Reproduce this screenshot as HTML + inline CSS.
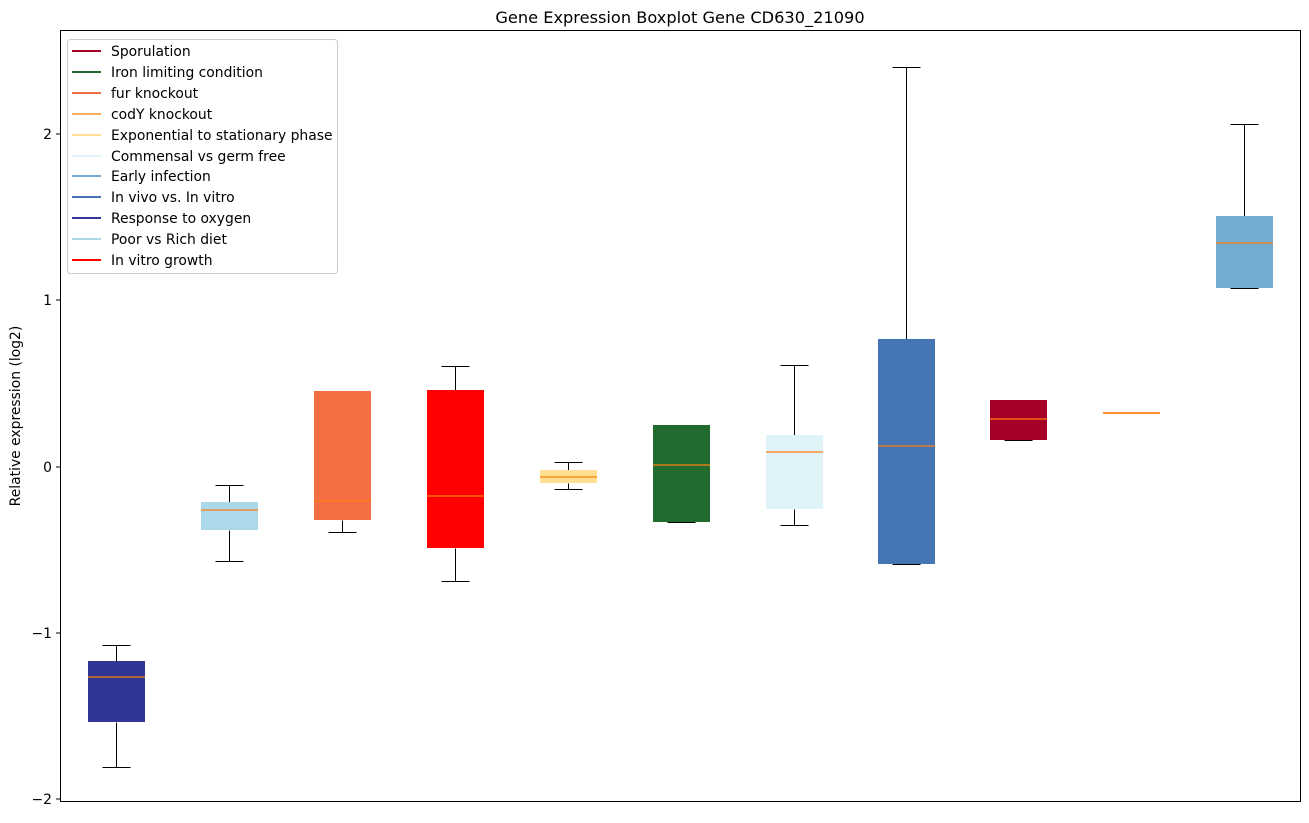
<!DOCTYPE html>
<html><head><meta charset="utf-8"><style>body{margin:0;background:#fff}</style></head><body>
<svg width="1309" height="818" xmlns="http://www.w3.org/2000/svg" font-family="DejaVu Sans, Liberation Sans, sans-serif">
<rect width="1309" height="818" fill="#fff"/>
<text x="680" y="23" font-size="16.2" text-anchor="middle">Gene Expression Boxplot Gene CD630_21090</text>
<g stroke="#000" stroke-width="1" transform="translate(0.5,0.5)">
<line x1="116" y1="645" x2="116" y2="661"/><line x1="116" y1="722" x2="116" y2="767"/><line x1="102" y1="645" x2="130" y2="645"/><line x1="102" y1="767" x2="130" y2="767"/>
<line x1="229" y1="485" x2="229" y2="502"/><line x1="229" y1="530" x2="229" y2="561"/><line x1="215" y1="485" x2="243" y2="485"/><line x1="215" y1="561" x2="243" y2="561"/>
<line x1="342" y1="520" x2="342" y2="532"/><line x1="328" y1="391" x2="356" y2="391"/><line x1="328" y1="532" x2="356" y2="532"/>
<line x1="455" y1="366" x2="455" y2="390"/><line x1="455" y1="548" x2="455" y2="581"/><line x1="441" y1="366" x2="469" y2="366"/><line x1="441" y1="581" x2="469" y2="581"/>
<line x1="568" y1="462" x2="568" y2="470"/><line x1="568" y1="483" x2="568" y2="489"/><line x1="554" y1="462" x2="582" y2="462"/><line x1="554" y1="489" x2="582" y2="489"/>
<line x1="667" y1="425" x2="695" y2="425"/><line x1="667" y1="522" x2="695" y2="522"/>
<line x1="794" y1="365" x2="794" y2="435"/><line x1="794" y1="509" x2="794" y2="525"/><line x1="780" y1="365" x2="808" y2="365"/><line x1="780" y1="525" x2="808" y2="525"/>
<line x1="906" y1="67" x2="906" y2="339"/><line x1="892" y1="67" x2="920" y2="67"/><line x1="892" y1="564" x2="920" y2="564"/>
<line x1="1004" y1="400" x2="1032" y2="400"/><line x1="1004" y1="440" x2="1032" y2="440"/>
<line x1="1244" y1="124" x2="1244" y2="216"/><line x1="1230" y1="124" x2="1258" y2="124"/><line x1="1230" y1="288" x2="1258" y2="288"/>
</g>
<rect x="88" y="661" width="57" height="61" fill="#313695"/>
<rect x="201" y="502" width="57" height="28" fill="#abd9e9"/>
<rect x="314" y="391" width="57" height="129" fill="#f46d43"/>
<rect x="427" y="390" width="57" height="158" fill="#ff0000"/>
<rect x="540" y="470" width="57" height="13" fill="#fee090"/>
<rect x="653" y="425" width="57" height="97" fill="#216b2e"/>
<rect x="766" y="435" width="57" height="74" fill="#e0f3f8"/>
<rect x="878" y="339" width="57" height="225" fill="#4575b4"/>
<rect x="990" y="400" width="57" height="40" fill="#a50026"/>
<rect x="1103" y="412" width="57" height="2" fill="#fdae61"/>
<rect x="1216" y="216" width="57" height="72" fill="#74add1"/>
<g stroke="#ff7f0e" stroke-width="1.2">
<line x1="88" y1="677" x2="145" y2="677"/><line x1="201" y1="510" x2="258" y2="510"/><line x1="314" y1="501" x2="371" y2="501"/><line x1="427" y1="496" x2="484" y2="496"/><line x1="540" y1="477" x2="597" y2="477"/><line x1="653" y1="465" x2="710" y2="465"/><line x1="766" y1="452" x2="823" y2="452"/><line x1="878" y1="446" x2="935" y2="446"/><line x1="990" y1="419" x2="1047" y2="419"/><line x1="1103" y1="413" x2="1160" y2="413"/><line x1="1216" y1="243" x2="1273" y2="243"/>
</g>
<rect x="60.5" y="30.5" width="1240" height="771" fill="none" stroke="#000"/>
<g font-size="13.9" text-anchor="end">
<line x1="56" y1="134" x2="60" y2="134" stroke="#000"/><text x="52" y="139">2</text>
<line x1="56" y1="300" x2="60" y2="300" stroke="#000"/><text x="52" y="305">1</text>
<line x1="56" y1="467" x2="60" y2="467" stroke="#000"/><text x="52" y="472">0</text>
<line x1="56" y1="633" x2="60" y2="633" stroke="#000"/><text x="52" y="638">−1</text>
<line x1="56" y1="799" x2="60" y2="799" stroke="#000"/><text x="52" y="804">−2</text>
</g>
<text transform="translate(20,416) rotate(-90)" font-size="13.9" text-anchor="middle">Relative expression (log2)</text>
<rect x="67.5" y="39.5" width="270" height="234" rx="3" fill="#fff" fill-opacity="0.8" stroke="#ccc"/>
<g font-size="13.9" stroke-width="2">
<line x1="72" y1="51" x2="101" y2="51" stroke="#a50026"/><text x="111" y="56">Sporulation</text>
<line x1="72" y1="72" x2="101" y2="72" stroke="#216b2e"/><text x="111" y="77">Iron limiting condition</text>
<line x1="72" y1="93" x2="101" y2="93" stroke="#f46d43"/><text x="111" y="98">fur knockout</text>
<line x1="72" y1="114" x2="101" y2="114" stroke="#fdae61"/><text x="111" y="119">codY knockout</text>
<line x1="72" y1="135" x2="101" y2="135" stroke="#fee090"/><text x="111" y="140">Exponential to stationary phase</text>
<line x1="72" y1="156" x2="101" y2="156" stroke="#e0f3f8"/><text x="111" y="161">Commensal vs germ free</text>
<line x1="72" y1="176" x2="101" y2="176" stroke="#74add1"/><text x="111" y="181">Early infection</text>
<line x1="72" y1="197" x2="101" y2="197" stroke="#4575b4"/><text x="111" y="202">In vivo vs. In vitro</text>
<line x1="72" y1="218" x2="101" y2="218" stroke="#313695"/><text x="111" y="223">Response to oxygen</text>
<line x1="72" y1="239" x2="101" y2="239" stroke="#abd9e9"/><text x="111" y="244">Poor vs Rich diet</text>
<line x1="72" y1="260" x2="101" y2="260" stroke="#ff0000"/><text x="111" y="265">In vitro growth</text>
</g>
</svg>
</body></html>
